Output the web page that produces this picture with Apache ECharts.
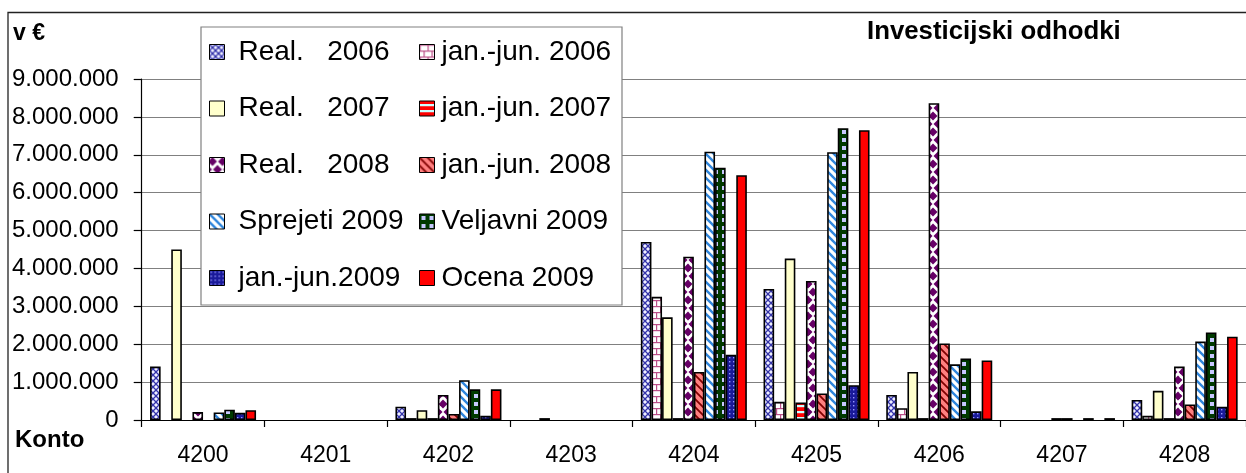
<!DOCTYPE html>
<html>
<head>
<meta charset="utf-8">
<script src="https://cdn.jsdelivr.net/npm/echarts@6/dist/echarts.min.js"></script>
<style>
html,body{margin:0;padding:0;background:#fff;}
#chart{width:1246px;height:473px;}
</style>
</head>
<body>
<div id="chart"></div>
<script>
// ---- data ----
const categories = ['4200','4201','4202','4203','4204','4205','4206','4207','4208'];
const seriesNames = ['Real.   2006','jan.-jun. 2006','Real.   2007','jan.-jun. 2007','Real.   2008','jan.-jun. 2008','Sprejeti 2009','Veljavni 2009','jan.-jun.2009','Ocena 2009'];
const real2006     = [1410000, 0,  350000,     0, 4700000, 3460000,  660000,     0,  530000];
const janjun2006   = [      0, 0,   50000,     0, 3250000,  480000,  310000,     0,  110000];
const real2007     = [4500000, 0,  260000, 50000, 2710000, 4260000, 1270000,     0,  770000];
const janjun2007   = [      0, 0,   50000,     0,   50000,  460000,   50000,     0,   50000];
const real2008     = [ 210000, 0,  660000,     0, 4310000, 3670000, 8360000, 50000, 1410000];
const janjun2008   = [      0, 0,  160000,     0, 1270000,  700000, 2020000, 50000,  410000];
const sprejeti2009 = [ 200000, 0, 1050000,     0, 7080000, 7070000, 1470000,     0, 2070000];
const veljavni2009 = [ 270000, 0,  810000,     0, 6660000, 7700000, 1620000, 50000, 2310000];
const janjun2009   = [ 190000, 0,  110000,     0, 1720000,  920000,  230000,     0,  350000];
const ocena2009    = [ 260000, 0,  810000,     0, 6460000, 7650000, 1570000, 50000, 2200000];
const seriesValues = [real2006, janjun2006, real2007, janjun2007, real2008, janjun2008, sprejeti2009, veljavni2009, janjun2009, ocena2009];
const yMax = 9000000, yStep = 1000000;

// ---- patterns ----
function tile(w, h, draw) {
  const c = document.createElement('canvas');
  c.width = w; c.height = h;
  const g = c.getContext('2d');
  draw(g, w, h);
  return { image: c, repeat: 'repeat' };
}
const fills = [
  tile(6, 6, (g, w, h) => { g.fillStyle = '#eeeeff'; g.fillRect(0,0,w,h); g.strokeStyle = '#3333aa'; g.lineWidth = 1.3;
    g.beginPath(); g.moveTo(0,0); g.lineTo(6,6); g.moveTo(6,0); g.lineTo(0,6); g.stroke(); }),
  tile(8, 12, (g, w, h) => { g.fillStyle = '#ffffff'; g.fillRect(0,0,w,h); g.fillStyle = '#bb4f88';
    g.fillRect(0,0,8,1.2); g.fillRect(0,6,8,1.2); g.fillRect(0,0,1.2,6); g.fillRect(4,6,1.2,6); }),
  '#ffffcc',
  tile(4, 6, (g, w, h) => { g.fillStyle = '#ff0000'; g.fillRect(0,0,w,h); g.fillStyle = '#ccffff'; g.fillRect(0,3,w,2.2); }),
  tile(10, 16, (g, w, h) => { g.fillStyle = '#ffffff'; g.fillRect(0,0,w,h); g.fillStyle = '#660066';
    const dia = (cx, cy) => { g.beginPath(); g.moveTo(cx, cy-4.5); g.lineTo(cx+4.5, cy); g.lineTo(cx, cy+4.5); g.lineTo(cx-4.5, cy); g.closePath(); g.fill(); };
    dia(3,4); dia(8,12); dia(8,-4); dia(-2,12); dia(13,4); dia(3,20); }),
  tile(8, 8, (g, w, h) => { g.fillStyle = '#ff8080'; g.fillRect(0,0,w,h); g.strokeStyle = '#800000'; g.lineWidth = 1.8;
    g.beginPath(); g.moveTo(-1,-1); g.lineTo(9,9); g.moveTo(-1,7); g.lineTo(1,9); g.moveTo(7,-1); g.lineTo(9,1); g.stroke(); }),
  tile(8, 8, (g, w, h) => { g.fillStyle = '#ffffff'; g.fillRect(0,0,w,h); g.strokeStyle = '#2f86dd'; g.lineWidth = 2.4;
    g.beginPath(); g.moveTo(-1,-1); g.lineTo(9,9); g.moveTo(-1,7); g.lineTo(1,9); g.moveTo(7,-1); g.lineTo(9,1); g.stroke(); }),
  tile(8, 8, (g, w, h) => { g.fillStyle = '#003a00'; g.fillRect(0,0,w,h); g.fillStyle = '#c8c8ff'; g.fillRect(2,2,4,4); }),
  tile(4, 4, (g, w, h) => { g.fillStyle = '#1a1a9a'; g.fillRect(0,0,w,h); g.fillStyle = '#9999ff'; g.fillRect(1,1,1.4,1.4); }),
  '#ff0000'
];

const FONT = "'Liberation Sans', Arial, Helvetica, sans-serif";
const fmt = v => String(v).replace(/\B(?=(\d{3})+(?!\d))/g, '.');

const series = seriesNames.map((n, i) => ({
  name: n, type: 'bar', data: seriesValues[i].map(v => (v === 0 ? null : v)),
  barGap: '0%', barCategoryGap: '13.6%',
  itemStyle: { color: fills[i], borderColor: '#000', borderWidth: 1.6 },
  emphasis: { disabled: true }, z: 2
}));

const colX = [209, 419], textPad = [9, 2];
const legends = seriesNames.map((n, i) => {
  const col = i % 2, row = Math.floor(i / 2);
  return {
    data: [n], orient: 'vertical', left: colX[col], top: 52 + row * 56.5 - 14,
    padding: 0, itemWidth: 15, itemHeight: 15, selectedMode: false, z: 20,
    icon: 'rect',
    itemStyle: { borderColor: '#000', borderWidth: 1 },
    textStyle: { fontFamily: FONT, fontSize: 28, color: '#000', lineHeight: 28, padding: [0, 0, 0, textPad[col]] }
  };
});

const option = {
  animation: false,
  backgroundColor: '#fff',
  grid: { left: 141.7, right: 0, top: 79, bottom: 53, containLabel: false },
  legend: legends,
  xAxis: {
    type: 'category', data: categories,
    axisLine: { lineStyle: { color: '#000', width: 1.2 } },
    axisTick: { show: true, length: 7, lineStyle: { color: '#000', width: 1.2 } },
    axisLabel: { fontFamily: FONT, fontSize: 23, color: '#000', margin: 24 },
    splitLine: { show: false }
  },
  yAxis: {
    type: 'value', min: 0, max: yMax, interval: yStep,
    axisLine: { show: true, lineStyle: { color: '#000', width: 1.2 } },
    axisTick: { show: true, length: 8, lineStyle: { color: '#000', width: 1.2 } },
    axisLabel: { fontFamily: FONT, fontSize: 24, color: '#000', margin: 23, formatter: fmt },
    splitLine: { show: true, lineStyle: { color: '#808080', width: 1.2 } }
  },
  series: series,
  graphic: [
    { type: 'rect', shape: { x: 8, y: 12.5, width: 1300, height: 500 }, style: { fill: 'none', stroke: '#222', lineWidth: 1.3 }, z: 1, silent: true },
    { type: 'rect', shape: { x: 201, y: 27, width: 421, height: 278 }, style: { fill: '#fff', stroke: '#808080', lineWidth: 1.2 }, z: 10, silent: true },
    { type: 'text', left: 13, top: 22, style: { text: 'v €', font: "bold 23px 'Liberation Sans', Arial, sans-serif", fill: '#000' }, z: 20 },
    { type: 'text', left: 867, top: 19, style: { text: 'Investicijski odhodki', font: "bold 25.8px 'Liberation Sans', Arial, sans-serif", fill: '#000' }, z: 20 },
    { type: 'text', left: 15, top: 428, style: { text: 'Konto', font: "bold 24px 'Liberation Sans', Arial, sans-serif", fill: '#000' }, z: 20 }
  ]
};

const chart = echarts.init(document.getElementById('chart'));
chart.setOption(option);
</script>
</body>
</html>
